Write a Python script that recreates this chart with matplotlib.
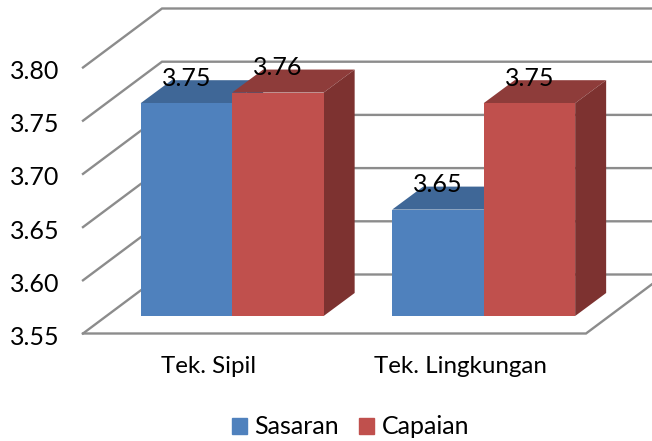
import matplotlib as mpl
mpl.use('agg')
import matplotlib.pyplot as plt
import matplotlib.transforms as mtrans
import numpy as np

categories = ['Tek. Sipil', 'Tek. Lingkungan']
sasaran = [3.75, 3.65]
capaian = [3.76, 3.75]
yticks = [3.55, 3.60, 3.65, 3.70, 3.75, 3.80]

W, H = 652, 441
plt.rcParams['font.family'] = ['Lato', 'DejaVu Sans']

fig = plt.figure(figsize=(W/100, H/100), dpi=100)
# axes = front plane of the 3d box, in pixels of the picture
ax = fig.add_axes([83/W, (H-333.5)/H, 503/W, 266/H])
ax.set_xlim(0, 2)
ax.set_ylim(3.55, 3.80)
ymin = 3.55

px = 2/503.0        # x data units per pixel
py = 0.25/266       # y data units per pixel

grid_col = '#8c8c8c'
wall_dx, wall_dy = 79*px, 59*py

# back wall + left wall gridlines
for v in yticks:
	ax.plot([0, wall_dx, 3], [v, v+wall_dy, v+wall_dy], color=grid_col, lw=1.7, clip_on=False, zorder=1, solid_joinstyle='miter')
# floor
ax.plot([0, 2, 2+wall_dx], [ymin, ymin, ymin+wall_dy], color=grid_col, lw=1.7, clip_on=False, zorder=1, solid_joinstyle='miter')

# bars sit part way into the box
off_dx, off_dy = 23.4*px, 17.5*py
depth_dx, depth_dy = 31*px, 23*py
width = 91.5*px
x = np.arange(len(categories)) + 0.5

def bar3d(xc, val, front, top, side):
	l = xc - width/2 + off_dx
	r = l + width
	b = ymin + off_dy
	t = val + off_dy
	ax.fill([l, r, r+depth_dx, l+depth_dx], [t, t, t+depth_dy, t+depth_dy], color=top, lw=0, clip_on=False, zorder=3)
	ax.fill([r, r+depth_dx, r+depth_dx, r], [b, b+depth_dy, t+depth_dy, t], color=side, lw=0, clip_on=False, zorder=3)
	ax.bar(l, t-b, width, bottom=b, align='edge', color=front, lw=0, clip_on=False, zorder=4)
	ax.annotate('%.2f' % val, (l + width/2, t), xytext=(0, 18), textcoords='offset points',
		ha='center', va='center', fontsize=18, color='black', zorder=6, annotation_clip=False)

for i in range(len(categories)):
	bar3d(x[i]-width/2, sasaran[i], '#4F81BD', '#3F6797', '#3A5F8C')
	bar3d(x[i]+width/2, capaian[i], '#C0504D', '#8E3C3A', '#7D3230')

ax.set_xticks(x)
ax.set_xticklabels(categories, fontsize=17.4)
ax.set_yticks(yticks)
ax.set_yticklabels(['%.2f' % v for v in yticks], fontsize=18)
ax.get_xaxis().set_tick_params(length=0, pad=16)
ax.get_yaxis().set_tick_params(length=0, pad=17)
# tick text sits a little lower in the original
shift = mtrans.ScaledTranslation(0, -1.5/72, fig.dpi_scale_trans)
for lab in ax.get_yticklabels():
	lab.set_transform(lab.get_transform() + shift)
for s in ax.spines.values():
	s.set_visible(False)
ax.patch.set_alpha(0)

handles = [plt.Rectangle((0, 0), 1, 1, color='#4F81BD'), plt.Rectangle((0, 0), 1, 1, color='#C0504D')]
fig.legend(handles, ['Sasaran', 'Capaian'], loc='center', bbox_to_anchor=(350.5/W, (H-427)/H), ncol=2, frameon=False,
	fontsize=18, handlelength=0.6, handleheight=0.6, handletextpad=0.3, columnspacing=0.8, borderpad=0)

plt.savefig('out.png', dpi=100)
